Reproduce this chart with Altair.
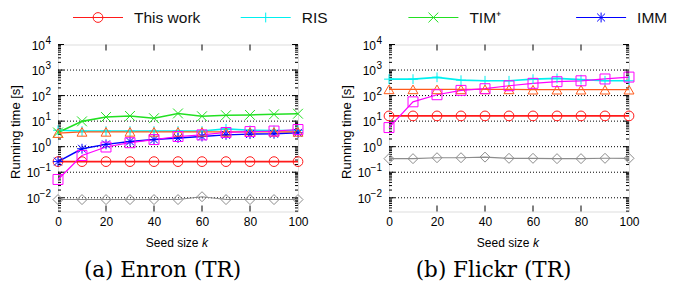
import altair as alt
import pandas as pd

# ---------------- data ----------------
K = [0, 10, 20, 30, 40, 50, 60, 70, 80, 90, 100]

NAMES = ["This work", "RIS", "TIM⁺", "IMM", "Method E", "Method F", "Method G"]
COLORS = ["#ff1a1a", "#00f0f0", "#22e022", "#0000ff", "#ff5a1a", "#ff00ff", "#8c8c8c"]
LINE_W = [1.8, 1.1, 1.1, 1.1, 1.5, 1.1, 1.1]
PLUS = "M-1,0H1M0,-1V1"
CROSS = "M-1,-1L1,1M-1,1L1,-1"
STAR = "M-1,0H1M0,-1V1M-0.8,-0.8L0.8,0.8M-0.8,0.8L0.8,-0.8"
SHAPES = ["circle", PLUS, CROSS, STAR, "triangle-up", "square", "diamond"]
SIZES = [95, 100, 100, 100, 100, 100, 70]

ENRON = {
    "This work": [0.26, 0.26, 0.26, 0.26, 0.26, 0.26, 0.26, 0.26, 0.26, 0.26, 0.26],
    "RIS": [4.4, 4.1, 4.1, 4.1, 4.1, 4.1, 4.1, 5.0, 4.4, 4.3, 4.3],
    "TIM⁺": [3.6, 9.8, 14.5, 16.0, 13.0, 20.0, 15.5, 17.0, 17.5, 18.5, 19.5],
    "IMM": [0.26, 0.83, 1.23, 1.6, 1.9, 2.2, 2.5, 2.9, 3.1, 3.2, 3.5],
    "Method E": [3.4, 3.8, 3.8, 3.8, 3.8, 3.8, 3.8, 3.8, 3.8, 3.8, 3.8],
    "Method F": [0.052, 0.45, 0.97, 1.43, 1.9, 2.5, 2.9, 3.6, 3.9, 4.1, 4.7],
    "Method G": [0.0085, 0.0085, 0.0085, 0.0085, 0.0085, 0.0085, 0.011, 0.0085, 0.0085, 0.0085, 0.0085],
}

FLICKR = {
    "This work": [16, 16, 16, 16, 16, 16, 16, 16, 16, 16, 16],
    "RIS": [440, 440, 520, 400, 380, 380, 440, 470, 420, 380, 380],
    "Method E": [175, 175, 175, 175, 175, 175, 170, 170, 170, 170, 170],
    "Method F": [5.6, 57, 108, 160, 186, 243, 302, 350, 380, 447, 530],
    "Method G": [0.34, 0.34, 0.37, 0.37, 0.39, 0.35, 0.35, 0.34, 0.34, 0.35, 0.35],
}

LEGEND_NAMES = ["This work", "RIS", "TIM⁺", "IMM"]
CAPTIONS = ["(a) Enron (TR)", "(b) Flickr (TR)"]
X_TITLE = "Seed size"
X_TITLE_VAR = "k"
Y_TITLE = "Running time [s]"

Y_DOMAIN = [0.0029, 10000]
Y_TICKS = [0.01, 0.1, 1, 10, 100, 1000, 10000]
Y_TICKS_NEG = [0.01, 0.1]
Y_TICKS_POS = [1, 10, 100, 1000, 10000]
Y_BASE = "10"
Y_EXPONENTS = ["−2", "−1", "0", "1", "2", "3", "4"]
GRID = [0.01, 0.1, 1, 10, 100, 1000]
MINOR = [m * 10.0 ** e for e in range(-3, 4) for m in range(2, 10)
         if Y_DOMAIN[0] <= m * 10.0 ** e <= Y_DOMAIN[1]]
X_TICKS = [0, 20, 40, 60, 80, 100]
X_INNER = [20, 40, 60, 80]

# ---------------- layout ----------------
W, H = 240, 167
SANS = "Liberation Sans"
SERIF = "DejaVu Serif"
LEG_Y = -27
LEG_STEP = 167.7

xs = alt.Scale(domain=[0, 100], nice=False, zero=False)
ys = alt.Scale(type="log", domain=Y_DOMAIN, nice=False)

xaxis = alt.Axis(values=X_TICKS, ticks=False, domain=False, grid=False, labelPadding=5,
                 labelFont=SANS, labelFontSize=12, labelColor="black", labelFlush=False,
                 labelOverlap=False, title=None)

color = alt.Color("s:N", scale=alt.Scale(domain=NAMES, range=COLORS), legend=None)
shape = alt.Shape("s:N", scale=alt.Scale(domain=NAMES, range=SHAPES), legend=None)
size = alt.Size("s:N", scale=alt.Scale(domain=NAMES, range=SIZES), legend=None)
swidth = alt.StrokeWidth("s:N", scale=alt.Scale(domain=NAMES, range=LINE_W), legend=None)


def series_df(d):
    rows = []
    for i, name in enumerate(NAMES):
        if name in d:
            for k, t in zip(K, d[name]):
                rows.append({"k": k, "t": t, "s": name, "o": i})
    return pd.DataFrame(rows)


def Y(field):
    return alt.Y(f"{field}:Q", scale=ys, axis=None)


def X(field):
    return alt.X(f"{field}:Q", scale=xs, axis=xaxis)


def rule_y(vals, x0, x1, **kw):
    return alt.Chart(pd.DataFrame({"v": vals})).mark_rule(color="black", strokeWidth=1, **kw).encode(
        y=Y("v"), x=alt.value(x0), x2=alt.value(x1))


def ylabels(vals, texts, x_right, size, dy):
    return alt.Chart(pd.DataFrame({"v": vals, "t": texts})).mark_text(
        font=SANS, fontSize=size, align="right", baseline="middle", color="black", dy=dy).encode(
        y=Y("v"), x=alt.value(x_right), text="t:N")


def panel(d, caption, with_legend):
    df = series_df(d)
    grid = rule_y(GRID, 0, W, strokeDash=[1, 2])
    majL = rule_y(Y_TICKS, 0, 6)
    majR = rule_y(Y_TICKS, W - 6, W)
    minL = rule_y(MINOR, 0, 3)
    minR = rule_y(MINOR, W - 3, W)
    xtB = alt.Chart(pd.DataFrame({"v": X_INNER})).mark_rule(color="black", strokeWidth=1).encode(
        x=X("v"), y=alt.value(H - 6), y2=alt.value(H))
    xtT = alt.Chart(pd.DataFrame({"v": X_INNER})).mark_rule(color="black", strokeWidth=1).encode(
        x=X("v"), y=alt.value(0), y2=alt.value(6))
    lines = alt.Chart(df).mark_line().encode(
        x=X("k"), y=Y("t"), color=color, strokeWidth=swidth, detail="s:N", order="k:Q")
    pts = alt.Chart(df).mark_point(filled=False, strokeWidth=1, opacity=1).encode(
        x=X("k"), y=Y("t"), color=color, shape=shape, size=size)
    lab_neg = ylabels(Y_TICKS_NEG, [Y_BASE] * len(Y_TICKS_NEG), -18, 12, 1)
    lab_pos = ylabels(Y_TICKS_POS, [Y_BASE] * len(Y_TICKS_POS), -13, 12, 1)
    lab_exp = ylabels(Y_TICKS, Y_EXPONENTS, -7, 10, -4)
    ytitle = alt.Chart(pd.DataFrame({"t": [Y_TITLE]})).mark_text(
        font=SANS, fontSize=13, angle=270, align="center", baseline="middle", color="black").encode(
        text="t:N", x=alt.value(-42), y=alt.value(H / 2 + 4))
    t1 = alt.Chart(pd.DataFrame({"t": [X_TITLE]})).mark_text(
        font=SANS, fontSize=12, align="right", baseline="middle", color="black").encode(
        text="t:N", x=alt.value(W / 2 + 20.5), y=alt.value(H + 31))
    t2 = alt.Chart(pd.DataFrame({"t": [X_TITLE_VAR]})).mark_text(
        font=SANS, fontSize=12, fontStyle="italic", align="left", baseline="middle", color="black").encode(
        text="t:N", x=alt.value(W / 2 + 24), y=alt.value(H + 31))
    cap = alt.Chart(pd.DataFrame({"t": [caption]})).mark_text(
        font=SERIF, fontSize=21.5, align="center", baseline="middle", color="black").encode(
        text="t:N", x=alt.value(W / 2 - 15.5), y=alt.value(H + 59))
    main = alt.layer(grid, majL, majR, minL, minR, xtB, xtT, lines, pts,
                     lab_neg, lab_pos, lab_exp, ytitle, t1, t2, cap)
    if not with_legend:
        return main.properties(width=W, height=H)
    ldf = pd.DataFrame({"name": LEGEND_NAMES, "i": list(range(len(LEGEND_NAMES)))})
    lx = alt.Scale(domain=[0, 3], range=[15, 15 + 3 * LEG_STEP])
    base = alt.Chart(ldf).transform_calculate(i2=f"datum.i + 50/{LEG_STEP}")
    lcolor = alt.Color("name:N", scale=alt.Scale(domain=NAMES, range=COLORS), legend=None)
    lrule = base.mark_rule(strokeWidth=1.2).encode(
        x=alt.X("i:Q", scale=lx, axis=None), x2="i2:Q", y=alt.value(LEG_Y), color=lcolor)
    lpt = base.mark_point(filled=False, strokeWidth=1, opacity=1, xOffset=25).encode(
        x=alt.X("i:Q", scale=lx, axis=None), y=alt.value(LEG_Y), color=lcolor,
        shape=alt.Shape("name:N", scale=alt.Scale(domain=NAMES, range=SHAPES), legend=None),
        size=alt.Size("name:N", scale=alt.Scale(domain=NAMES, range=SIZES), legend=None))
    ltxt = base.mark_text(font=SANS, fontSize=15.5, align="left", baseline="middle", dx=61,
                          color="#111").encode(
        x=alt.X("i:Q", scale=lx, axis=None), y=alt.value(LEG_Y), text="name:N")
    leg = alt.layer(lrule, lpt, ltxt)
    return alt.layer(main, leg).resolve_scale(x="independent").properties(width=W, height=H)


p1 = panel(ENRON, CAPTIONS[0], True)
p2 = panel(FLICKR, CAPTIONS[1], False)

chart = alt.hconcat(p1, p2, spacing=91, bounds="flush").properties(
    padding={"left": 1, "top": 1.5, "right": 0, "bottom": 0}
).configure_view(stroke="black", strokeWidth=1.5).configure(background="white")

chart.save("out.html", embed_options={"renderer": "svg", "actions": False})
